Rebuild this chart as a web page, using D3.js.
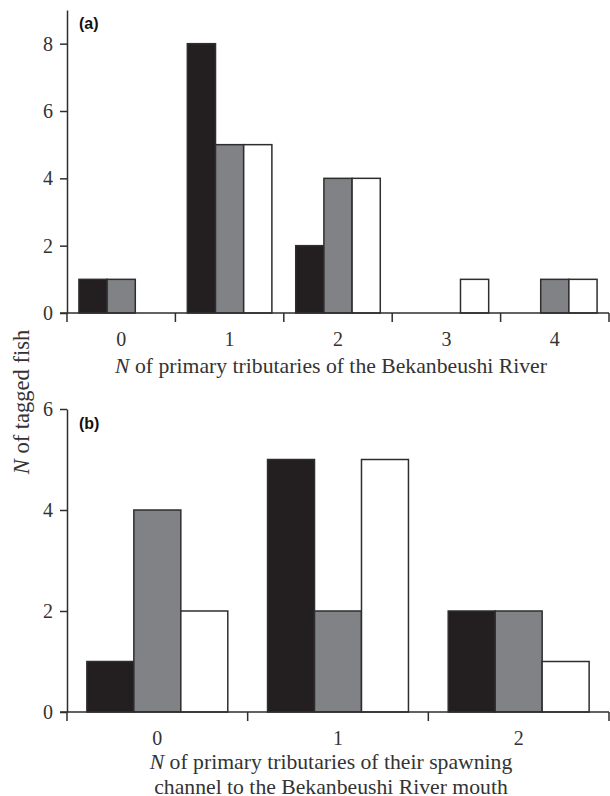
<!DOCTYPE html>
<html>
<head>
<meta charset="utf-8">
<script src="https://cdn.jsdelivr.net/npm/d3@7"></script>
<style>
  body { margin: 0; background: #fff; }
  svg { display: block; }
</style>
</head>
<body>
<svg id="chart" width="610" height="796"></svg>
<script>
// series order: black, gray, white
const seriesKeys = ['black', 'gray', 'white'];
const seriesColors = { black: '#231f20', gray: '#818286', white: '#ffffff' };

// panel (a)
const catsA = ['0', '1', '2', '3', '4'];
const blackA = [1, 8, 2, 0, 0];
const grayA = [1, 5, 4, 0, 1];
const whiteA = [0, 5, 4, 1, 1];
const ticksA = [0, 2, 4, 6, 8];

// panel (b)
const catsB = ['0', '1', '2'];
const blackB = [1, 5, 2];
const grayB = [4, 2, 2];
const whiteB = [2, 5, 1];
const ticksB = [0, 2, 4, 6];

const ink = '#2e2e2e';
const serif = '"Liberation Serif", "Times New Roman", serif';
const svg = d3.select('#chart');

function drawPanel(opts) {
    const { cats, values, yMax, yTicks, top, bottom, label, labelY, titleLines, titleY } = opts;
    const left = 67, right = 609;

    const x = d3.scaleBand().domain(cats).range([left, right]).padding(0);
    const bw = x.bandwidth();
    const xs = d3.scaleBand().domain(seriesKeys).range([bw * 0.11, bw * 0.89]).padding(0);
    const y = d3.scaleLinear().domain([0, yMax]).range([bottom, top]);

    const g = svg.append('g');

    // bars
    const rows = [];
    cats.forEach((c, i) => {
        seriesKeys.forEach((k, j) => {
            const v = values[j][i];
            if (v > 0) rows.push({ c, k, v });
        });
    });
    g.selectAll('rect.bar')
        .data(rows)
        .join('rect')
        .attr('class', 'bar')
        .attr('x', d => x(d.c) + xs(d.k))
        .attr('width', xs.bandwidth())
        .attr('y', d => y(d.v))
        .attr('height', d => y(0) - y(d.v))
        .attr('fill', d => seriesColors[d.k])
        .attr('stroke', ink)
        .attr('stroke-width', 1.5);

    // y axis
    const yAxis = g.append('g')
        .attr('transform', `translate(${left},0)`)
        .call(d3.axisLeft(y).tickValues(yTicks).tickFormat(d3.format('d'))
            .tickSize(7).tickSizeOuter(0).tickPadding(7));
    yAxis.selectAll('path, line').attr('stroke', ink).attr('stroke-width', 1.5);
    yAxis.selectAll('text')
        .attr('fill', '#333')
        .style('font-family', serif)
        .style('font-size', '20px');

    // x axis line
    g.append('line')
        .attr('x1', left - 7).attr('x2', right)
        .attr('y1', y(0)).attr('y2', y(0))
        .attr('stroke', ink).attr('stroke-width', 1.5);

    // boundary ticks
    const bounds = cats.map(c => x(c)).concat([right]);
    g.selectAll('line.xtick')
        .data(bounds)
        .join('line')
        .attr('class', 'xtick')
        .attr('x1', d => d).attr('x2', d => d)
        .attr('y1', y(0)).attr('y2', y(0) + 9)
        .attr('stroke', ink).attr('stroke-width', 1.5);

    // category labels
    g.selectAll('text.xlab')
        .data(cats)
        .join('text')
        .attr('class', 'xlab')
        .attr('x', d => x(d) + bw / 2)
        .attr('y', y(0) + 33)
        .attr('text-anchor', 'middle')
        .attr('fill', '#333')
        .style('font-family', serif)
        .style('font-size', '20px')
        .text(d => d);

    // panel label
    g.append('text')
        .attr('x', 79).attr('y', labelY)
        .attr('fill', '#111')
        .style('font-family', 'Arial, "Liberation Sans", sans-serif')
        .style('font-weight', 'bold')
        .style('font-size', '16px')
        .text(label);

    // axis title
    titleLines.forEach((line, i) => {
        const t = g.append('text')
            .attr('x', 331).attr('y', titleY + i * 25)
            .attr('text-anchor', 'middle')
            .attr('fill', '#333')
            .style('font-family', serif)
            .style('font-size', '21.7px');
        if (line.startsWith('N ')) {
            t.append('tspan').style('font-style', 'italic').text('N');
            t.append('tspan').text(line.slice(1));
        } else {
            t.text(line);
        }
    });
}

drawPanel({
    cats: catsA, values: [blackA, grayA, whiteA], yMax: 9, yTicks: ticksA,
    top: 10, bottom: 313, label: '(a)', labelY: 29,
    titleLines: ['N of primary tributaries of the Bekanbeushi River'], titleY: 373
});

drawPanel({
    cats: catsB, values: [blackB, grayB, whiteB], yMax: 6, yTicks: ticksB,
    top: 409, bottom: 712, label: '(b)', labelY: 429,
    titleLines: ['N of primary tributaries of their spawning', 'channel to the Bekanbeushi River mouth'], titleY: 769
});

// shared y title
const yt = svg.append('text')
    .attr('transform', 'translate(29,402) rotate(-90)')
    .attr('text-anchor', 'middle')
    .attr('fill', '#333')
    .style('font-family', serif)
    .style('font-size', '22.5px');
yt.append('tspan').style('font-style', 'italic').text('N');
yt.append('tspan').text(' of tagged fish');
</script>
</body>
</html>
